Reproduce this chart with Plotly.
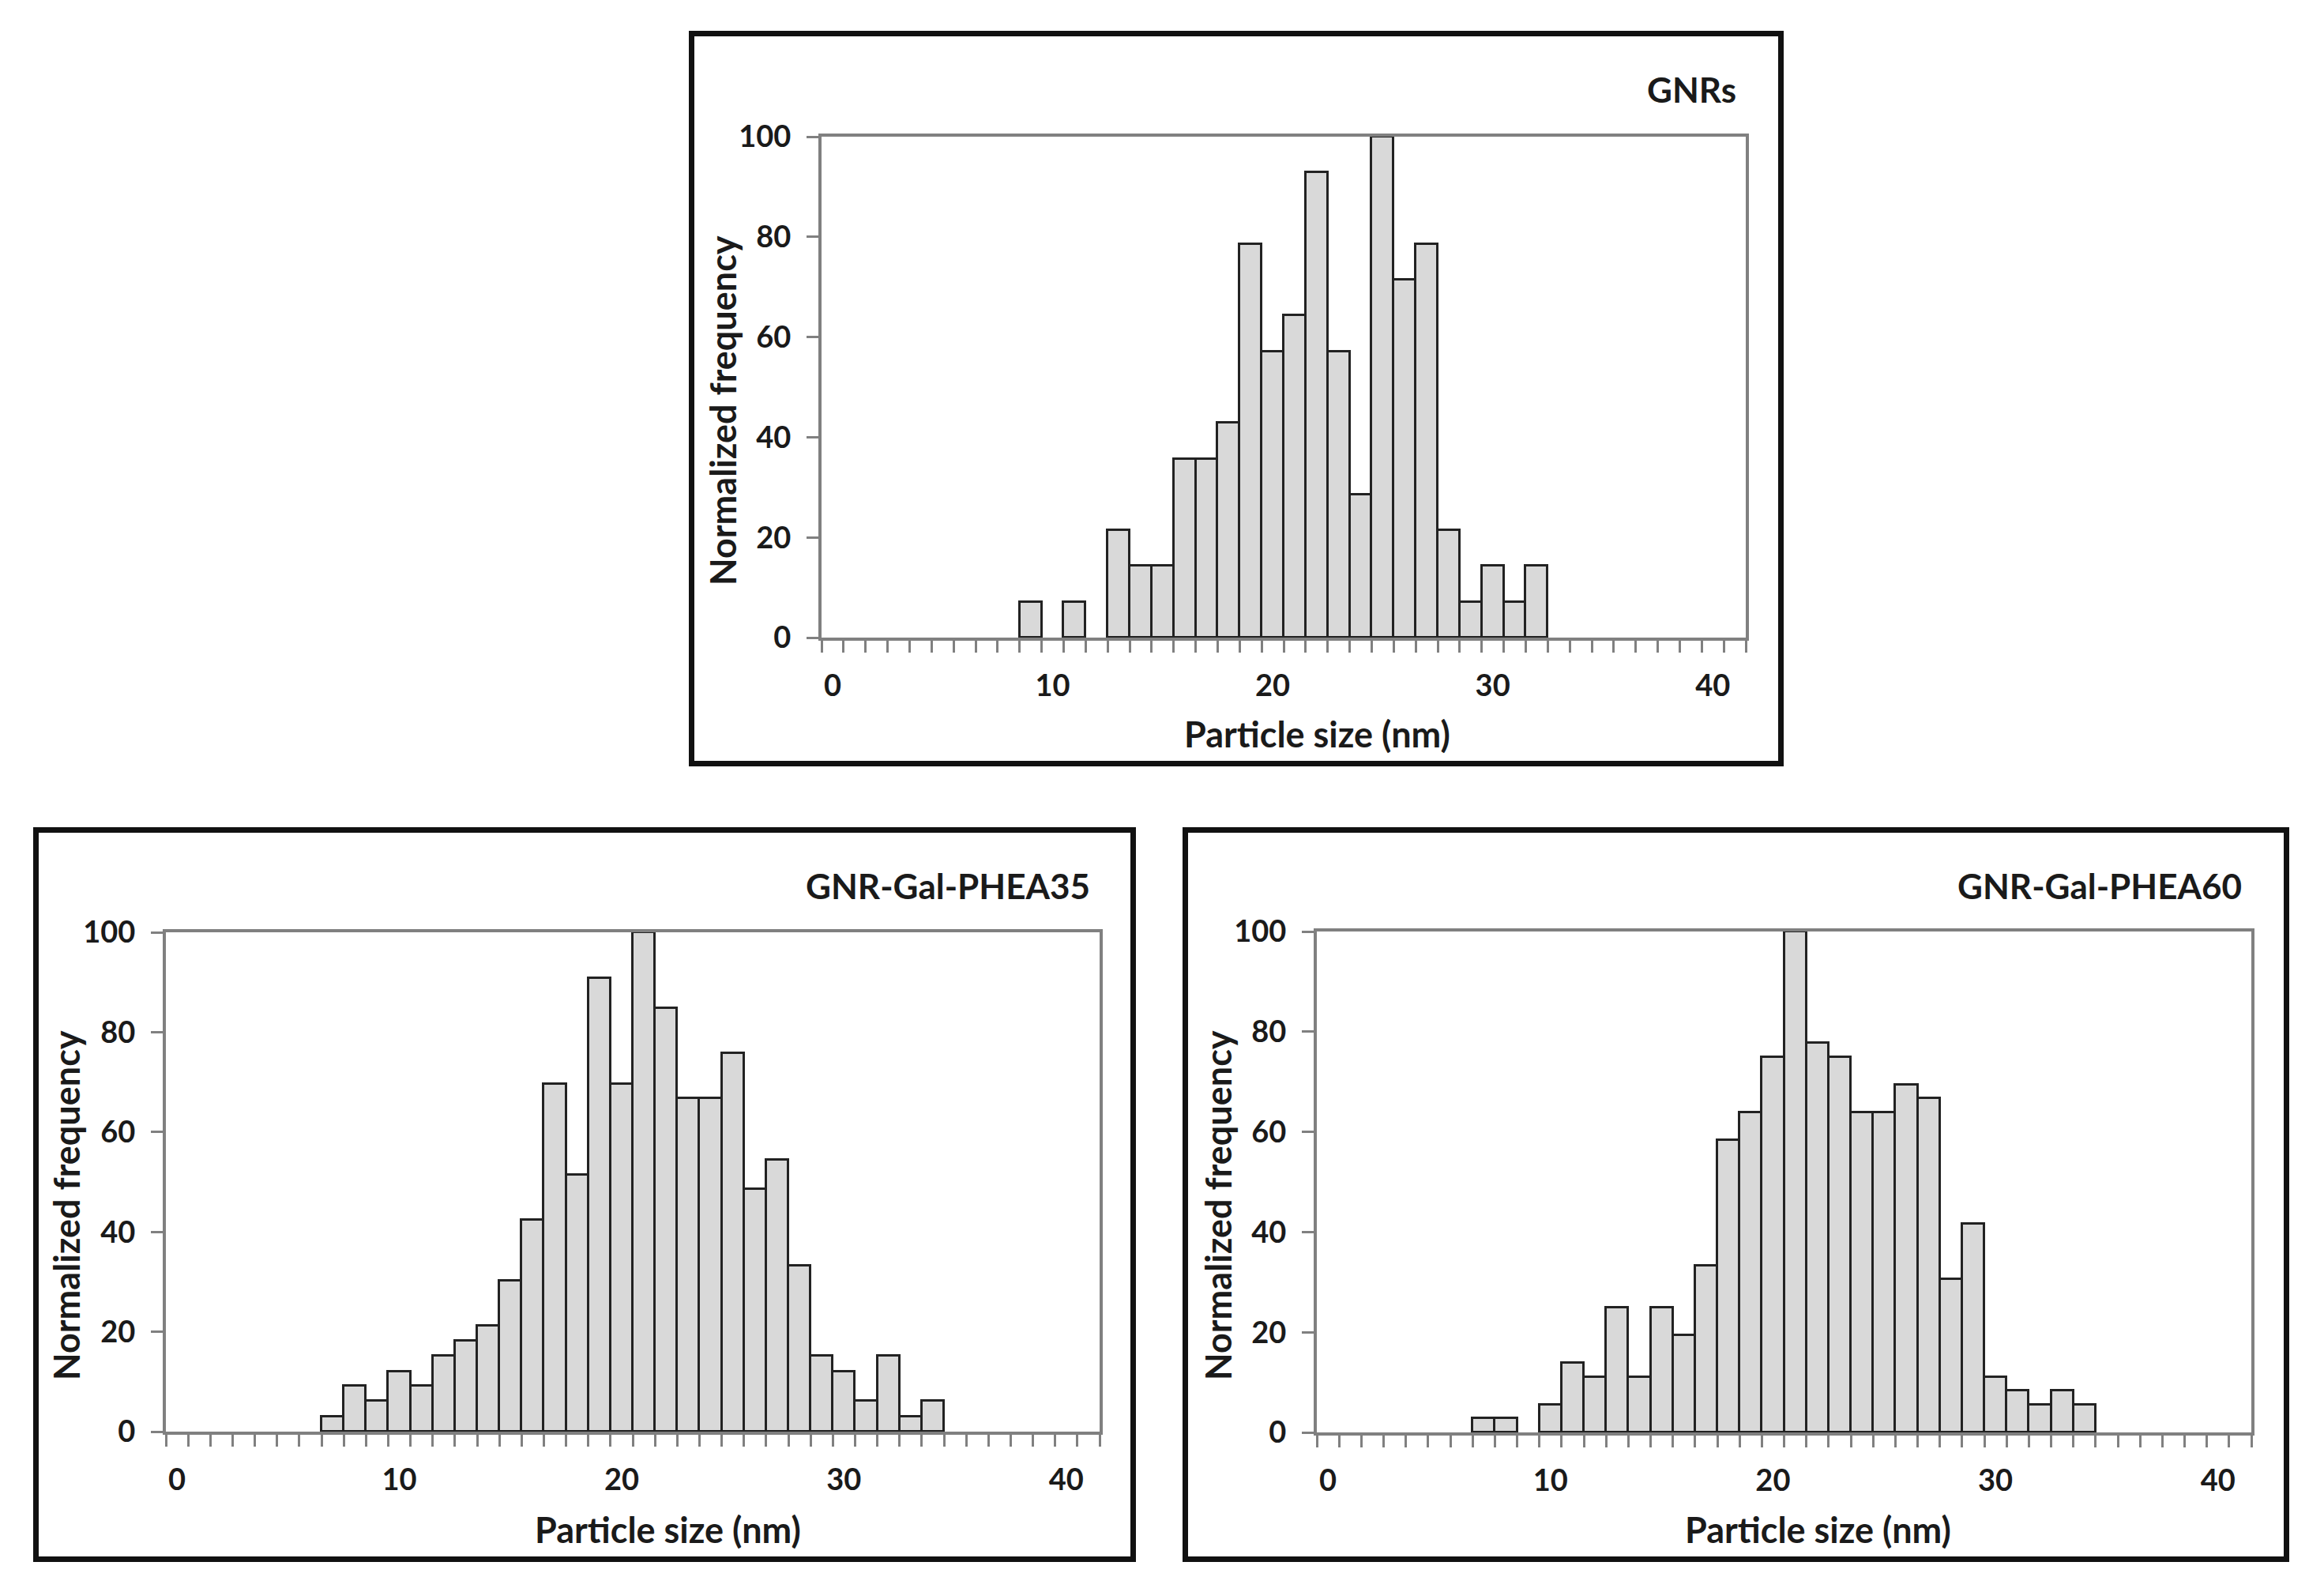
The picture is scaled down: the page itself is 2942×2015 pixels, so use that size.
import plotly.graph_objects as go

# --- data: normalized frequency per 1 nm bin (bins with zero counts omitted) ---
gnr_sizes = [9, 11, 13, 14, 15, 16, 17, 18, 19, 20, 21, 22, 23, 24, 25, 26, 27, 28, 29, 30, 31, 32]
gnr_freq = [7.1, 7.1, 21.4, 14.3, 14.3, 35.7, 35.7, 42.9, 78.6, 57.1, 64.3, 92.9, 57.1, 28.6,
            100, 71.4, 78.6, 21.4, 7.1, 14.3, 7.1, 14.3]

phea35_sizes = [7, 8, 9, 10, 11, 12, 13, 14, 15, 16, 17, 18, 19, 20, 21, 22, 23, 24, 25, 26,
                27, 28, 29, 30, 31, 32, 33, 34]
phea35_freq = [3.0, 9.1, 6.1, 12.1, 9.1, 15.2, 18.2, 21.2, 30.3, 42.4, 69.7, 51.5, 90.9, 69.7,
               100, 84.8, 66.7, 66.7, 75.8, 48.5, 54.5, 33.3, 15.2, 12.1, 6.1, 15.2, 3.0, 6.1]

phea60_sizes = [7, 8, 10, 11, 12, 13, 14, 15, 16, 17, 18, 19, 20, 21, 22, 23, 24, 25, 26, 27,
                28, 29, 30, 31, 32, 33, 34]
phea60_freq = [2.8, 2.8, 5.6, 13.9, 11.1, 25.0, 11.1, 25.0, 19.4, 33.3, 58.3, 63.9, 75.0, 100,
               77.8, 75.0, 63.9, 63.9, 69.4, 66.7, 30.6, 41.7, 11.1, 8.3, 5.6, 8.3, 5.6]

panel_titles = ["GNRs", "GNR-Gal-PHEA35", "GNR-Gal-PHEA60"]
x_title = "Particle size (nm)"
y_title = "Normalized frequency"
x_tickvals = [0, 10, 20, 30, 40]
y_tickvals = [0, 20, 40, 60, 80, 100]

W, H = 2942, 2015
FONT = "Lato"
TXT = "#1a1a1a"
AXIS_GRAY = "#808080"

# pixel layout: (box x0, y0, x1, y1), (plot x0, y0, x1, y1), y-title x, x-title (x, y)
panels = [
    dict(sizes=gnr_sizes, freq=gnr_freq, box=(872, 39, 2258, 970), plot=(1040, 173, 2210, 807),
         ytx=915, xt=(1667, 929)),
    dict(sizes=phea35_sizes, freq=phea35_freq, box=(42, 1047, 1438, 1977), plot=(210, 1180, 1392, 1812),
         ytx=84, xt=(845, 1936)),
    dict(sizes=phea60_sizes, freq=phea60_freq, box=(1497, 1047, 2898, 1977), plot=(1667, 1179, 2850, 1813),
         ytx=1542, xt=(2301, 1936)),
]


def px(x):
    return x / W


def py(y):
    return 1 - y / H


fig = go.Figure()
annotations = []
shapes = []

for i, (p, title) in enumerate(zip(panels, panel_titles)):
    n = "" if i == 0 else str(i + 1)
    x0, y0, x1, y1 = p["plot"]
    fig.add_trace(go.Bar(
        x=p["sizes"], y=p["freq"], width=1,
        marker=dict(color="#d9d9d9", line=dict(color="#222222", width=3)),
        xaxis="x" + n, yaxis="y" + n, showlegend=False,
    ))
    fig.update_layout(**{
        "xaxis" + n: dict(
            domain=[px(x0), px(x1)], anchor="y" + n, range=[-0.5, 41.5],
            tickmode="array", tickvals=x_tickvals, ticks="outside", ticklen=0,
            ticklabelstandoff=24, automargin=False,
            showline=True, linecolor=AXIS_GRAY, linewidth=4, mirror=True,
            showgrid=False, zeroline=False, fixedrange=True,
            tickfont=dict(family=FONT, size=38, color=TXT, weight="bold"),
            minor=dict(ticks="outside", tickmode="linear", tick0=-0.5, dtick=1,
                       ticklen=15, tickwidth=3, tickcolor=AXIS_GRAY, showgrid=False),
        ),
        "yaxis" + n: dict(
            domain=[py(y1), py(y0)], anchor="x" + n, range=[0, 100],
            tickmode="array", tickvals=y_tickvals, ticks="outside", ticklen=15,
            tickwidth=3, tickcolor=AXIS_GRAY, ticklabelstandoff=12, automargin=False,
            showline=True, linecolor=AXIS_GRAY, linewidth=4, mirror=True,
            showgrid=False, zeroline=False, fixedrange=True,
            tickfont=dict(family=FONT, size=38, color=TXT, weight="bold"),
        ),
    })

    # panel title, axis titles
    annotations.append(dict(text=title, xref="paper", yref="paper", x=px(x1 - 10), y=py(p["box"][1] + 74),
                            xanchor="right", yanchor="middle", showarrow=False,
                            font=dict(family=FONT, size=44, color=TXT, weight="bold")))
    annotations.append(dict(text=x_title, xref="paper", yref="paper", x=px(p["xt"][0]), y=py(p["xt"][1]),
                            xanchor="center", yanchor="middle", showarrow=False,
                            font=dict(family=FONT, size=45, color=TXT, weight="bold")))
    annotations.append(dict(text=y_title, xref="paper", yref="paper", x=px(p["ytx"]), y=py((y0 + y1) / 2 + 30),
                            xanchor="center", yanchor="middle", showarrow=False, textangle=-90,
                            font=dict(family=FONT, size=45, color=TXT, weight="bold")))

    bx0, by0, bx1, by1 = p["box"]
    shapes.append(dict(type="rect", xref="paper", yref="paper",
                       x0=px(bx0 + 3.5), y0=py(by0 + 3.5), x1=px(bx1 - 3.5), y1=py(by1 - 3.5),
                       line=dict(color="#111111", width=7)))

fig.update_layout(
    width=W, height=H,
    margin=dict(l=0, r=0, t=0, b=0, autoexpand=False),
    paper_bgcolor="white", plot_bgcolor="white",
    bargap=0,
    annotations=annotations, shapes=shapes,
)

fig.write_html("out.html", post_script="document.body.style.margin='0';",
               config={"displayModeBar": False})
